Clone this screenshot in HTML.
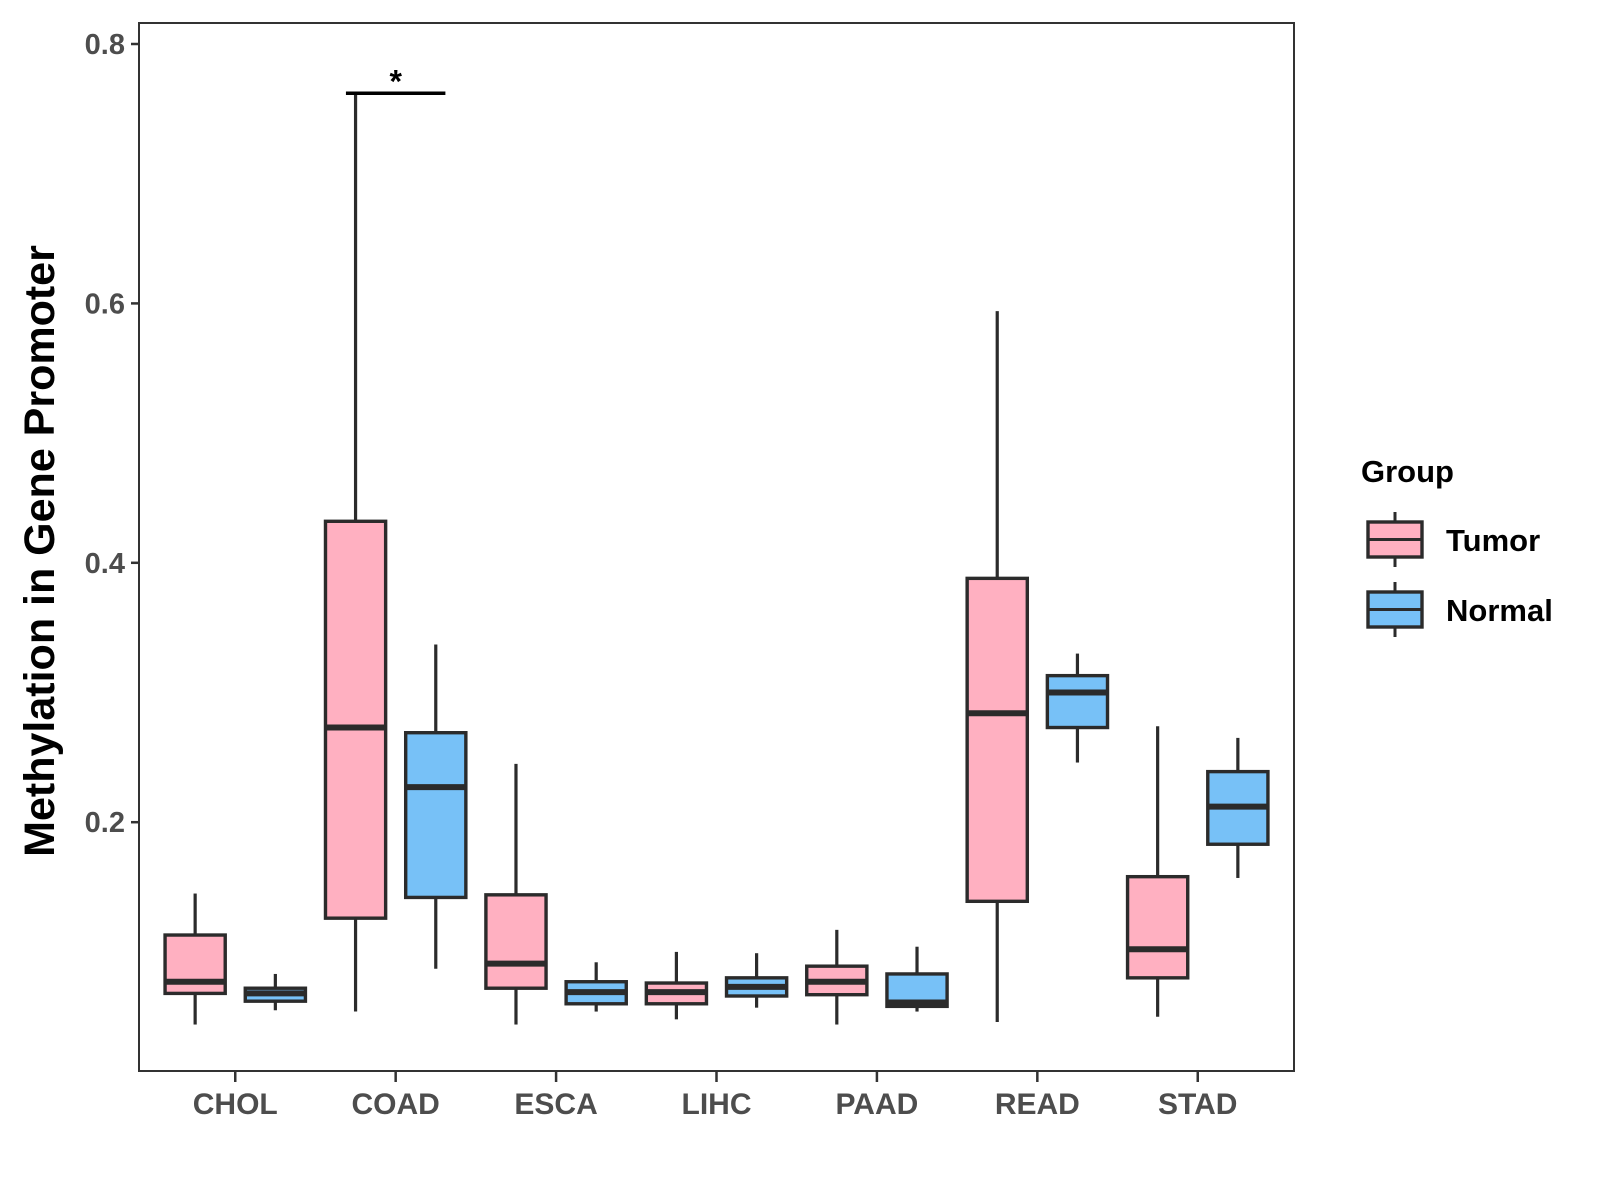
<!DOCTYPE html>
<html><head><meta charset="utf-8"><style>
html,body{margin:0;padding:0;background:#fff}
svg{display:block;font-family:"Liberation Sans",Arial,sans-serif}
</style></head><body>
<svg id="chart" width="1600" height="1200" viewBox="0 0 1600 1200">
<rect x="0" y="0" width="1600" height="1200" fill="#fff"/>
<g id="plot"></g>
<g id="axes"></g>
</svg>
<script>
const categories = ["CHOL","COAD","ESCA","LIHC","PAAD","READ","STAD"];
const groups = ["Tumor","Normal"];
// [low whisker, Q1, median, Q3, high whisker]
const tumorStats = [
 [0.044,0.068,0.077,0.113,0.145],
 [0.054,0.126,0.273,0.432,0.763],
 [0.044,0.072,0.091,0.144,0.245],
 [0.048,0.060,0.069,0.076,0.100],
 [0.044,0.067,0.077,0.089,0.117],
 [0.046,0.139,0.284,0.388,0.594],
 [0.050,0.080,0.102,0.158,0.274]
];
const normalStats = [
 [0.055,0.062,0.068,0.072,0.083],
 [0.087,0.142,0.227,0.269,0.337],
 [0.054,0.060,0.069,0.077,0.092],
 [0.057,0.066,0.073,0.080,0.099],
 [0.054,0.058,0.061,0.083,0.104],
 [0.246,0.273,0.300,0.313,0.330],
 [0.157,0.183,0.212,0.239,0.265]
];
const yTicks = [0.2,0.4,0.6,0.8];
const sigBar = {cat:"COAD", y:0.762, label:"*"};

const NS="http://www.w3.org/2000/svg";
const L=139,R=1294,T=23,B=1071;
const yv=v=>44+(0.8-v)*1297;
const unit=(R-L)/7.2;
const xc=i=>L+(i+0.6)*unit;
const colors={Tumor:"#FFB0C1",Normal:"#77C1F7"};
const stroke="#2b2b2b";
function mk(tag,attrs,parent){const e=document.createElementNS(NS,tag);for(const k in attrs)e.setAttribute(k,attrs[k]);parent.appendChild(e);return e;}
const plot=document.getElementById('plot');
const axes=document.getElementById('axes');

function drawBox(i,s,grp,off){
  const g=mk('g',{},plot);
  
  
  const cx=xc(i)+off*unit, w=0.375*unit;
  mk('line',{x1:cx,x2:cx,y1:yv(s[4]),y2:yv(s[3]),stroke:stroke,'stroke-width':3.2},g);
  mk('line',{x1:cx,x2:cx,y1:yv(s[1]),y2:yv(s[0]),stroke:stroke,'stroke-width':3.2},g);
  mk('rect',{x:cx-w/2,y:yv(s[3]),width:w,height:yv(s[1])-yv(s[3]),fill:colors[grp],stroke:stroke,'stroke-width':3.4},g);
  mk('line',{x1:cx-w/2,x2:cx+w/2,y1:yv(s[2]),y2:yv(s[2]),stroke:stroke,'stroke-width':6},g);
}
categories.forEach((c,i)=>{drawBox(i,tumorStats[i],"Tumor",-0.25);drawBox(i,normalStats[i],"Normal",0.25);});

const si=categories.indexOf(sigBar.cat);
const sb=mk('line',{x1:xc(si)-0.31*unit,x2:xc(si)+0.31*unit,y1:yv(sigBar.y),y2:yv(sigBar.y),stroke:'#000','stroke-width':3.5},plot);


const st=mk('text',{x:xc(si),y:yv(sigBar.y)-1,'text-anchor':'middle','font-size':32,'font-weight':'bold',fill:'#000'},plot);
st.textContent=sigBar.label;



const fr=mk('rect',{x:L,y:T,width:R-L,height:B-T,fill:'none',stroke:'#333','stroke-width':2},axes);



yTicks.forEach(t=>{
  const y=yv(t);
  const tk=mk('line',{x1:L-8,x2:L,y1:y,y2:y,stroke:'#333','stroke-width':2.5},axes);
  
  
  const tx=mk('text',{x:L-14,y:y+10,'text-anchor':'end','font-size':29,'font-weight':'bold',fill:'#4d4d4d'},axes);
  tx.textContent=t.toFixed(1);
  
  
});
categories.forEach((c,i)=>{
  const x=xc(i);
  const tk=mk('line',{x1:x,x2:x,y1:B,y2:B+11,stroke:'#333','stroke-width':2.5},axes);
  
  
  const tx=mk('text',{x:x,y:B+43,'text-anchor':'middle','font-size':30,'font-weight':'bold',fill:'#4d4d4d'},axes);
  tx.textContent=c;
  
  
});
const yt=mk('text',{x:0,y:0,transform:'translate(54,551) rotate(-90)','text-anchor':'middle','font-size':43,'font-weight':'bold',fill:'#000'},axes);
yt.textContent='Methylation in Gene Promoter';



const lg=mk('g',{transform:'translate(-7,0)'},axes);


const ltitle=mk('text',{x:1368,y:482,'font-size':31,'font-weight':'bold',fill:'#000'},lg);
ltitle.textContent='Group';


groups.forEach((g,k)=>{
  const top=522+k*70, cx=1402;
  const e=mk('g',{},lg);
  
  
  mk('line',{x1:cx,x2:cx,y1:top-10,y2:top+45,stroke:stroke,'stroke-width':3},e);
  mk('rect',{x:1375,y:top,width:54,height:35,fill:colors[g],stroke:stroke,'stroke-width':3.4},e);
  mk('line',{x1:1375,x2:1429,y1:top+17.5,y2:top+17.5,stroke:stroke,'stroke-width':3},e);
  const t=mk('text',{x:1453,y:top+29,'font-size':31,'font-weight':'bold',fill:'#000'},e);
  t.textContent=g;
});
</script>
</body></html>
